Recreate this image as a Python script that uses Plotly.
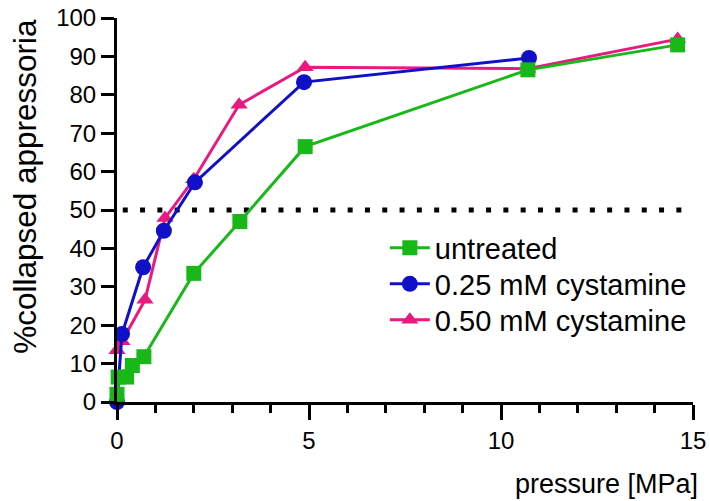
import plotly.graph_objects as go

# Data
untreated_x = [0, 0.03, 0.25, 0.4, 0.7, 2.0, 3.2, 4.9, 10.7, 14.6]
untreated_y = [2, 6.5, 6.5, 9.5, 11.8, 33.5, 47, 66.5, 86.5, 93]

cys025_x = [0, 0.13, 0.68, 1.22, 2.03, 4.87, 10.73]
cys025_y = [0, 17.7, 35.1, 44.6, 57.2, 83.3, 89.6]

cys050_x = [0, 0.13, 0.73, 1.25, 2.0, 3.18, 4.9, 10.7, 14.6]
cys050_y = [13.5, 15.8, 26.6, 47.9, 58, 77.4, 87.2, 86.8, 94.5]

names = ["untreated", "0.25 mM cystamine", "0.50 mM cystamine"]
threshold = 50

GREEN = "#19B819"
BLUE = "#1010C8"
PINK = "#E8197F"

fig = go.Figure()
fig.add_trace(go.Scatter(x=cys050_x, y=cys050_y, name=names[2], mode="lines+markers",
                         line=dict(color=PINK, width=3), cliponaxis=False, legend="legend3",
                         marker=dict(symbol="triangle-up", size=15, color=PINK)))
fig.add_trace(go.Scatter(x=cys025_x, y=cys025_y, name=names[1], mode="lines+markers",
                         line=dict(color=BLUE, width=3), cliponaxis=False, legend="legend2",
                         marker=dict(symbol="circle", size=16, color=BLUE)))
fig.add_trace(go.Scatter(x=untreated_x, y=untreated_y, name=names[0], mode="lines+markers",
                         line=dict(color=GREEN, width=3), cliponaxis=False, legend="legend",
                         marker=dict(symbol="square", size=15, color=GREEN)))

fig.add_shape(type="line", xref="x", yref="y", x0=0.15, x1=15, y0=threshold, y1=threshold,
              line=dict(color="black", width=5, dash="5px,12.3px"), layer="below")

font = "Liberation Sans, Arial, sans-serif"

# plot area occupies pixels x 117..693, y 18..402
def leg(row_px):
    return dict(x=0.465, y=(402 - row_px) / 384, xanchor="left", yanchor="middle",
                font=dict(size=29, family=font), bgcolor="rgba(0,0,0,0)", itemwidth=40)

fig.update_layout(
    width=710, height=501,
    margin=dict(l=117, r=17, t=18, b=99),
    paper_bgcolor="white", plot_bgcolor="white",
    font=dict(family=font, size=24, color="black"),
    showlegend=True,
    legend=leg(248), legend2=leg(284), legend3=leg(320),
    xaxis=dict(range=[0, 15], tickmode="linear", tick0=0, dtick=5, automargin=False,
               showline=True, linecolor="black", linewidth=3, ticks="outside",
               ticklen=15, tickwidth=3, tickcolor="black", showgrid=False, zeroline=False,
               tickfont=dict(size=24),
               minor=dict(tick0=0, dtick=1, ticks="outside", ticklen=8, tickwidth=3,
                          tickcolor="black", showgrid=False)),
    yaxis=dict(range=[0, 100], tickmode="linear", tick0=0, dtick=10, automargin=False,
               showline=True, linecolor="black", linewidth=3, ticks="outside",
               ticklen=13, tickwidth=3, tickcolor="black", showgrid=False, zeroline=False,
               tickfont=dict(size=24)),
)

fig.add_annotation(text="%collapsed appressoria", xref="paper", yref="paper",
                   x=-0.16, y=0.5625, xanchor="center", yanchor="middle", textangle=-90,
                   showarrow=False, font=dict(size=31.5, family=font))
fig.add_annotation(text="pressure [MPa]", xref="paper", yref="paper",
                   x=1.012, y=-0.258, xanchor="right", yanchor="bottom",
                   showarrow=False, font=dict(size=27, family=font))

fig.write_html("out.html", config={"displayModeBar": False},
               post_script="document.body.style.margin='0';document.body.style.overflow='hidden';")
